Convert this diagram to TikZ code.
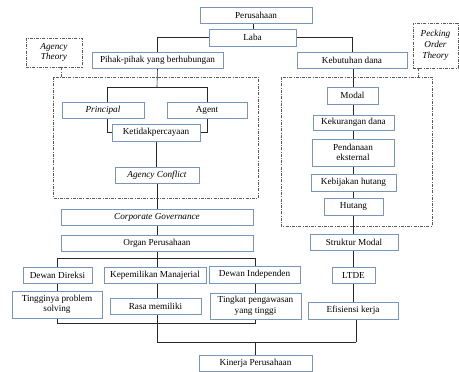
\documentclass[tikz,border=0pt]{standalone}
\usepackage{fontspec}
\setmainfont{Liberation Serif}
\usetikzlibrary{backgrounds}
\definecolor{bd}{RGB}{120,150,188}
\definecolor{dd}{RGB}{90,90,90}
\definecolor{ln}{RGB}{40,40,40}
\tikzset{
  bx/.style={draw=bd, line width=1pt, fill=white, inner sep=0pt, align=center,
    font=\fontsize{9.2}{10.5}\selectfont},
  dbox/.style={draw=dd, line width=0.6pt, dash pattern=on 3pt off 1.3pt on 0.8pt off 1.3pt},
  cn/.style={draw=ln, line width=0.6pt},
  dcn/.style={draw=dd, line width=0.6pt, dash pattern=on 3pt off 1.3pt on 0.8pt off 1.3pt},
}
\newcommand{\bxat}[6]{\node[bx, minimum width=#4pt, minimum height=#5pt] (#1) at (#2,#3) {#6};}
\begin{document}
\begin{tikzpicture}[x=1pt,y=-1pt]
\useasboundingbox (0,0) rectangle (459,372);
% dashed frames
\node[dbox, minimum width=56pt, minimum height=29pt, inner sep=0pt, align=center, font=\fontsize{9.2}{10.5}\selectfont\itshape] (agth) at (54,52.5) {Agency\\Theory};
\node[dbox, minimum width=45pt, minimum height=45pt, inner sep=0pt, align=center, font=\fontsize{9.2}{11}\selectfont\itshape] (poth) at (435.5,45.5) {Pecking\\Order\\Theory};
\draw[dbox] (53,77) rectangle (258,198);
\draw[dbox] (281,77) rectangle (432,226);
\coordinate (lbtop) at (61,77);
\coordinate (rbtop) at (418,77);
% boxes
\bxat{per}{256}{15}{112}{16}{Perusahaan}
\bxat{laba}{252.5}{37.5}{87}{17}{Laba}
\bxat{pihak}{157.5}{60}{131}{16}{Pihak-pihak yang berhubungan}
\bxat{kebut}{352}{60}{110}{16}{Kebutuhan dana}
\bxat{princ}{103}{110}{82}{16}{\itshape Principal}
\bxat{agent}{207}{110}{80}{16}{Agent}
\bxat{ketid}{156}{132.5}{88}{17}{Ketidakpercayaan}
\bxat{agconf}{157}{175}{84}{16}{\itshape Agency Conflict}
\bxat{corpgov}{157}{217}{192}{16}{\itshape Corporate Governance}
\bxat{organ}{157}{243}{192}{16}{Organ Perusahaan}
\bxat{modal}{352.5}{95.5}{51}{17}{Modal}
\bxat{kekur}{353.5}{122.5}{81}{15}{Kekurangan dana}
\bxat{pendan}{353}{152.5}{82}{27}{Pendanaan\\eksternal}
\bxat{kebij}{353.5}{182.5}{85}{17}{Kebijakan hutang}
\bxat{hutang}{353.5}{206.5}{59}{17}{Hutang}
\bxat{struk}{354}{242}{88}{16}{Struktur Modal}
\bxat{ltde}{353.5}{275}{43}{16}{LTDE}
\bxat{efis}{353}{310.5}{90}{17}{Efisiensi kerja}
\bxat{dd}{57.5}{275}{69}{16}{Dewan Direksi}
\bxat{km}{155}{275}{102}{16}{Kepemilikan Manajerial}
\bxat{di}{254.5}{274.5}{91}{17}{Dewan Independen}
\bxat{tps}{57}{304.5}{90}{27}{Tingginya problem\\solving}
\bxat{rm}{155.5}{306}{91}{16}{Rasa memiliki}
\bxat{tpt}{255.5}{306}{91}{26}{Tingkat pengawasan\\yang tinggi}
\bxat{kin}{255.5}{363}{113}{16}{Kinerja Perusahaan}
% helper coordinates
\coordinate (pa) at (157,87);
\coordinate (pl) at (107,87);
\coordinate (pr) at (207,87);
\coordinate (ob) at (157,258);
\coordinate (obl) at (57,258);
\coordinate (obr) at (255,258);
\coordinate (cbl) at (57,323);
\coordinate (cbr) at (255,323);
\coordinate (cm) at (157,342);
\coordinate (ce) at (356,342);
\coordinate (ck) at (255,342);
\coordinate (rl) at (353,0);
\begin{scope}[on background layer]
\draw[dcn] (agth.south -| lbtop) -- (lbtop);
\draw[dcn] (poth.south -| rbtop) -- (rbtop);
\draw[cn] (per.south -| 253,0) -- (laba.north -| 253,0);
\draw[cn] (laba.west) -| (pihak.north);
\draw[cn] (laba.east) -| (kebut.north);
\draw[cn] (pihak.south) -- (pa);
\draw[cn] (pl) -- (pr);
\draw[cn] (pl) |- (ketid.west);
\draw[cn] (pr) |- (ketid.east);
\draw[cn] (ketid.south) -- (ketid.south |- agconf.north);
\draw[cn] (agconf.south) -- (agconf.south |- corpgov.north);
\draw[cn] (corpgov.south) -- (organ.north);
\draw[cn] (organ.south) -- (ob);
\draw[cn] (obl) -- (obr) -- (cbr) -- (cbl) -- cycle;
\draw[cn] (ob) -- (cm) -- (ce);
\draw[cn] (efis.south -| ce) -- (ce);
\draw[cn] (ck) -- (ck |- kin.north);
\draw[cn] (kebut.south -| rl) -- (struk.north -| rl);
\draw[cn] (struk.south -| rl) -- (ltde.north -| rl);
\draw[cn] (ltde.south) -- (ltde.south |- efis.north);
\end{scope}
\end{tikzpicture}
\end{document}
